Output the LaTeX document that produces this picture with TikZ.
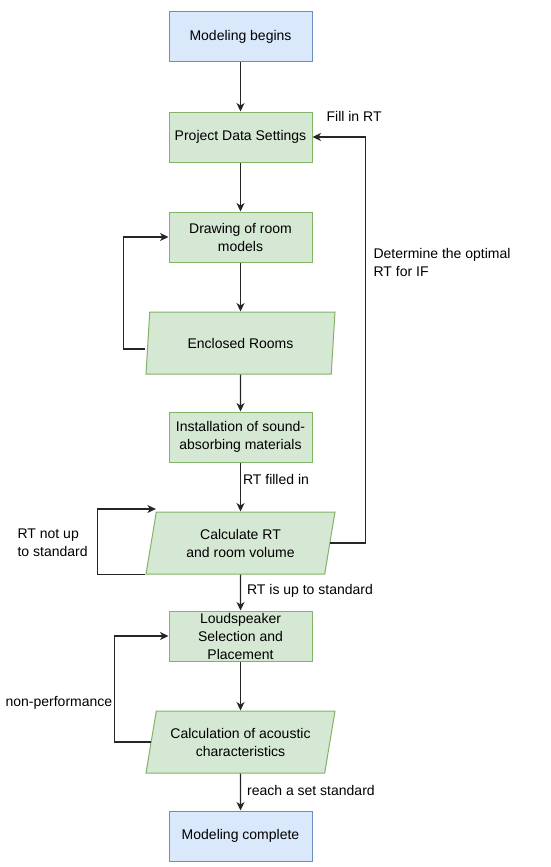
\documentclass[tikz,border=0pt]{standalone}
\usepackage{fontspec}
\setmainfont{Liberation Sans}
\usetikzlibrary{arrows.meta,shapes.geometric,positioning}

\definecolor{termfill}{HTML}{DAE8FC}
\definecolor{termline}{HTML}{6C8EBF}
\definecolor{procfill}{HTML}{D5E8D4}
\definecolor{procline}{HTML}{82B366}

\begin{document}
\begin{tikzpicture}[
            > = {Stealth[length=8.5pt, width=8pt, inset=2.5pt]}, % arrow head style
            node distance = 100pt, % distance between centres
            font = \fontsize{14pt}{18pt}\selectfont,
            line width = 1.2pt, % line style
            draw = black!85
        ]

        \tikzstyle{terminal}=[
            draw = termline,
            fill = termfill,
            line width = 1pt,
            minimum width = 143pt,
            minimum height = 50pt,
            inner sep = 0pt,
            align = center
        ]
        \tikzstyle{process}=[terminal, draw = procline, fill = procfill]
        \tikzstyle{inout}=[
            trapezium,
            trapezium left angle = 70,
            trapezium right angle = 110,
            trapezium stretches body,
            draw = procline,
            fill = procfill,
            line width = 1pt,
            minimum width = 189pt,
            minimum height = 62pt,
            inner sep = 0pt,
            align = center
        ]
        \tikzstyle{lbl}=[inner sep = 2pt, align = left]

        \useasboundingbox (0,0) rectangle (550pt,-867pt);

        \node[terminal] (begin) at (240.5pt,-37pt) {Modeling begins};
        \node[process] (pds) [below of=begin] {Project Data Settings};
        \node[process] (draw) [below of=pds] {Drawing of room\\models};
        \node[inout] (rooms) [below of=draw, node distance=106pt] {Enclosed Rooms};
        \node[process] (inst) [below of=rooms, node distance=94pt] {Installation of sound-\\absorbing materials};
        \node[inout] (calc) [below of=inst, node distance=106pt] {Calculate RT\\and room volume};
        \node[process] (speak) [below of=calc, node distance=93pt] {Loudspeaker\\Selection and\\Placement};
        \node[inout] (acou) [below of=speak, node distance=106pt] {Calculation of acoustic\\characteristics};
        \node[terminal] (done) [below of=acou, node distance=94pt] {Modeling complete};

        \draw[->] (begin) -- (pds);
        \draw[->] (pds) -- (draw);
        \draw[->] (draw) -- (rooms);
        \draw[->] (rooms) -- (inst);
        \draw[->] (inst) -- node[lbl, right, pos=0.35] (filled) {RT filled in} (calc);
        \draw[->] (calc) -- node[lbl, right, pos=0.45, xshift=4pt] (upto) {RT is up to standard} (speak);
        \draw[->] (speak) -- (acou);
        \draw[->] (acou) -- node[lbl, right, pos=0.45, xshift=4pt] (reach) {reach a set standard} (done);

        % feedback loops
        \draw[->] ([xshift=-2pt, yshift=-6pt]rooms.west) -- ++(-22pt,0) |- (draw.west);
        \draw[->] (calc.bottom left corner) -- ++(-48pt,0) |- ([yshift=2.5pt]calc.top left corner);
        \draw[->] (calc.east) -- ++(35.5pt,0) |- (pds.east);
        \draw[->] (acou.west) -- ++(-36pt,0) |- (speak.west);

        \node[lbl, anchor=west] (fillin) at (324pt,-116pt) {Fill in RT};
        \node[lbl, anchor=west] (optimal) at (371pt,-262pt) {Determine the optimal\\RT for IF};
        \node[lbl, anchor=west] (notup) at (15pt,-543pt) {RT not up\\to standard};
        \node[lbl, anchor=west] (nonperf) at (3pt,-703pt) {non-performance};

    \end{tikzpicture}
\end{document}
